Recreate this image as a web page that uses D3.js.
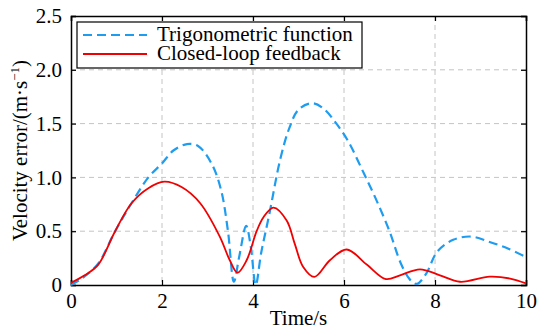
<!DOCTYPE html>
<html>
<head>
<meta charset="utf-8">
<script src="https://cdn.jsdelivr.net/npm/d3@7"></script>
<style>
  body { margin: 0; background: #fff; }
  svg text { font-family: "Liberation Serif", "Times New Roman", serif; }
</style>
</head>
<body>
<div id="chart"></div>
<script>
// time (s) and velocity error (m/s)
var trigTime = [0, 0.16, 0.3, 0.6, 0.97, 1.33, 1.7, 2.0, 2.25, 2.55, 2.8, 3.1, 3.3, 3.45, 3.58, 3.7, 3.85, 3.95, 4.06, 4.18, 4.35, 4.6, 4.8, 5.0, 5.3, 5.55, 5.85, 6.1, 6.4, 6.7, 7.0, 7.25, 7.45, 7.6, 7.8, 8.05, 8.4, 8.8, 9.2, 9.6, 10];
var trigErr  = [0, 0.04, 0.08, 0.2, 0.5, 0.76, 1.0, 1.13, 1.25, 1.31, 1.29, 1.12, 0.88, 0.5, 0.03, 0.27, 0.55, 0.36, 0.0, 0.3, 0.64, 1.17, 1.46, 1.63, 1.69, 1.64, 1.49, 1.33, 1.07, 0.8, 0.5, 0.2, 0.05, 0.01, 0.1, 0.31, 0.42, 0.45, 0.4, 0.34, 0.26];

var loopTime = [0, 0.3, 0.6, 0.97, 1.33, 1.7, 2.05, 2.43, 2.84, 3.27, 3.49, 3.66, 3.86, 4.08, 4.23, 4.45, 4.74, 4.92, 5.1, 5.35, 5.69, 6.06, 6.5, 6.92, 7.23, 7.67, 8.11, 8.55, 9.2, 9.65, 10];
var loopErr  = [0.02, 0.09, 0.19, 0.5, 0.76, 0.9, 0.96, 0.91, 0.76, 0.45, 0.23, 0.115, 0.23, 0.5, 0.63, 0.72, 0.6, 0.38, 0.17, 0.075, 0.23, 0.33, 0.19, 0.055, 0.09, 0.146, 0.09, 0.03, 0.077, 0.06, 0.015];

var xTicks = [0, 2, 4, 6, 8, 10];
var yTicks = [0, 0.5, 1.0, 1.5, 2.0, 2.5];
var seriesNames = ['Trigonometric function', 'Closed-loop feedback'];

var width = 537, height = 332;
var margin = { left: 71, right: 11, top: 16, bottom: 47 };
var w = width - margin.left - margin.right;
var h = height - margin.top - margin.bottom;
var serif = '"Liberation Serif", "Times New Roman", serif';

var svg = d3.select('#chart').append('svg')
    .attr('width', width)
    .attr('height', height)
    .attr('font-family', serif);
var g = svg.append('g')
    .attr('transform', 'translate(' + margin.left + ',' + margin.top + ')');

var x = d3.scaleLinear().domain([0, 10]).range([0, w]);
var y = d3.scaleLinear().domain([0, 2.5]).range([h, 0]);

// dashed grid
g.selectAll('.gx').data(xTicks.slice(1, -1)).enter().append('line')
    .attr('x1', function (d) { return x(d); }).attr('x2', function (d) { return x(d); })
    .attr('y1', 0).attr('y2', h)
    .attr('stroke', '#c4c4c4').attr('stroke-dasharray', '5,4');
g.selectAll('.gy').data(yTicks.slice(1, -1)).enter().append('line')
    .attr('y1', function (d) { return y(d); }).attr('y2', function (d) { return y(d); })
    .attr('x1', 0).attr('x2', w)
    .attr('stroke', '#c4c4c4').attr('stroke-dasharray', '5,4');

function yFmt(d) { return d === 0 ? '0' : d3.format('.1f')(d); }

var axB = g.append('g').attr('transform', 'translate(0,' + h + ')')
    .call(d3.axisBottom(x).tickValues(xTicks).tickSize(-5).tickPadding(8));
var axT = g.append('g')
    .call(d3.axisTop(x).tickValues(xTicks).tickSize(-5).tickFormat(''));
var axL = g.append('g')
    .call(d3.axisLeft(y).tickValues(yTicks).tickSize(-5).tickPadding(9).tickFormat(yFmt));
var axR = g.append('g').attr('transform', 'translate(' + w + ',0)')
    .call(d3.axisRight(y).tickValues(yTicks).tickSize(-5).tickFormat(''));

[axB, axT, axL, axR].forEach(function (a) {
    a.attr('font-family', null).attr('font-size', 21);
    a.select('.domain').attr('stroke', '#000').attr('stroke-width', 1.5);
    a.selectAll('.tick line').attr('stroke', '#000').attr('stroke-width', 1.2);
    a.selectAll('text').attr('fill', '#000');
});

var line = d3.line()
    .x(function (d) { return x(d[0]); })
    .y(function (d) { return y(d[1]); })
    .curve(d3.curveCatmullRom.alpha(0.5));

g.append('path')
    .datum(d3.zip(trigTime, trigErr))
    .attr('d', line)
    .attr('fill', 'none')
    .attr('stroke', '#1e9cf0')
    .attr('stroke-width', 2.2)
    .attr('stroke-dasharray', '9,5');

g.append('path')
    .datum(d3.zip(loopTime, loopErr))
    .attr('d', line)
    .attr('fill', 'none')
    .attr('stroke', '#f00000')
    .attr('stroke-width', 1.8);

// legend
var leg = svg.append('g').attr('transform', 'translate(77,22)');
leg.append('rect').attr('width', 285).attr('height', 46)
    .attr('fill', '#fff').attr('stroke', '#000').attr('stroke-width', 1.2);
var legStyles = [
    { color: '#1e9cf0', dash: '9,5', width: 2.2 },
    { color: '#f00000', dash: null, width: 1.8 }
];
seriesNames.forEach(function (name, i) {
    var yy = 13 + i * 19;
    leg.append('line')
        .attr('x1', 6).attr('x2', 70).attr('y1', yy).attr('y2', yy)
        .attr('stroke', legStyles[i].color)
        .attr('stroke-width', legStyles[i].width)
        .attr('stroke-dasharray', legStyles[i].dash);
    leg.append('text')
        .attr('x', 80).attr('y', yy + 6)
        .attr('font-size', 21)
        .text(name);
});

// axis titles
svg.append('text')
    .attr('x', margin.left + w / 2).attr('y', 325)
    .attr('text-anchor', 'middle')
    .attr('font-size', 21)
    .text('Time/s');

var yt = svg.append('text')
    .attr('transform', 'translate(27,' + (margin.top + h / 2) + ') rotate(-90)')
    .attr('text-anchor', 'middle')
    .attr('font-size', 21);
yt.append('tspan').text('Velocity error/(m\u00b7s');
yt.append('tspan').attr('dy', -8).attr('font-size', 13).text('\u22121');
yt.append('tspan').attr('dy', 8).text(')');
</script>
</body>
</html>
